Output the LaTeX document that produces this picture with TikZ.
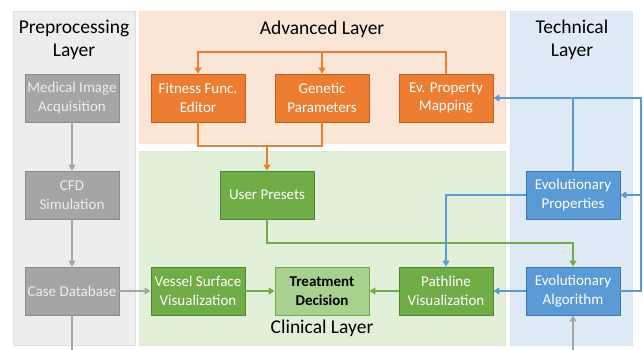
\documentclass[tikz,border=0pt]{standalone}
\usepackage{fontspec}
\setmainfont{Carlito}
\usetikzlibrary{arrows.meta}

\definecolor{grayfill}{HTML}{A5A5A5}
\definecolor{graydraw}{HTML}{8A8A8A}
\definecolor{graytext}{HTML}{EDEDED}
\definecolor{orangefill}{HTML}{ED7D31}
\definecolor{orangedraw}{HTML}{C05F1F}
\definecolor{greenfill}{HTML}{70AD47}
\definecolor{greendraw}{HTML}{4E8530}
\definecolor{lightgreen}{HTML}{A9D18E}
\definecolor{bluefill}{HTML}{5B9BD5}
\definecolor{bluedraw}{HTML}{3E78B0}
\definecolor{prepanel}{HTML}{EDEDED}
\definecolor{advpanel}{HTML}{FBE5D6}
\definecolor{clinpanel}{HTML}{E2F0D9}
\definecolor{techpanel}{HTML}{DEEBF7}

\tikzstyle{box}=[minimum width=94pt, minimum height=48pt, inner sep=2pt, align=center, line width=0.9pt, font=\fontsize{15}{18.5}\selectfont]
\tikzstyle{prebox}=[box, fill=grayfill, draw=graydraw, text=graytext]
\tikzstyle{advbox}=[box, fill=orangefill, draw=orangedraw, text=white]
\tikzstyle{clinbox}=[box, fill=greenfill, draw=greendraw, text=white]
\tikzstyle{techbox}=[box, fill=bluefill, draw=bluedraw, text=white]
\tikzstyle{title}=[align=center, font=\fontsize{19.5}{23.5}\selectfont]
\tikzstyle{tip}=[-{Triangle[width=7pt,length=6pt]}]
\tikzstyle{gline}=[line width=2pt, grayfill]
\tikzstyle{oline}=[line width=2pt, orangefill]
\tikzstyle{cline}=[line width=2pt, greenfill]
\tikzstyle{bline}=[line width=2pt, bluefill]

\begin{document}
\begin{tikzpicture}[x=1pt, y=-1pt]
\useasboundingbox (0,0) rectangle (643,350);
% Layers
    \filldraw[fill=prepanel, draw=black!12] (13,11) rectangle (135,345);
    \filldraw[fill=advpanel, draw=orangefill!25] (139,11) rectangle (505,143);
    \filldraw[fill=clinpanel, draw=greenfill!25] (139,151) rectangle (505,345);
    \filldraw[fill=techpanel, draw=bluefill!25] (510,11) rectangle (632,345);
    \node[title] (pretitle) at (74,40) {Preprocessing\\Layer};
    \node[title] (advtitle) at (322,29) {Advanced Layer};
    \node[title] (techtitle) at (572,40) {Technical\\Layer};
    \node[title] (clintitle) at (322,328) {Clinical Layer};
% Preprocessing
    \node[prebox] (acq) at (72,98) {Medical Image\\Acquisition};
    \node[prebox] (cfd) at (72,195) {CFD\\Simulation};
    \node[prebox] (casedb) at (72,291) {Case Database};
% Advanced
    \node[advbox] (fitness) at (198,98) {Fitness Func.\\Editor};
    \node[advbox] (genetic) at (322,98) {Genetic\\Parameters};
    \node[advbox] (evmap) at (446,98) {Ev. Property\\Mapping};
% Clinical
    \node[clinbox] (presets) at (267,195) {User Presets};
    \node[clinbox] (vessel) at (198,291) {Vessel Surface\\Visualization};
    \node[box, fill=lightgreen, draw=greenfill, font=\fontsize{15}{18.5}\selectfont\bfseries] (decision) at (322,291) {Treatment\\Decision};
    \node[clinbox] (pathline) at (446,291) {Pathline\\Visualization};
% Technical
    \node[techbox] (evprop) at (573,195) {Evolutionary\\Properties};
    \node[techbox] (evalg) at (573,291) {Evolutionary\\Algorithm};
% Turning points
    \coordinate (dbout) at (72,352);
    \coordinate (algin) at (573,352);
    \coordinate (otop) at (322,52);
    \coordinate (obot) at (267,146);
    \coordinate (cturn) at (573,243);
    \coordinate (bcorner) at (641,98);
    \coordinate (bmid) at (641,195);
    \coordinate (bjoin) at (573,98);
% Gray connectors
    \draw[gline, tip] (acq) -- (cfd);
    \draw[gline, tip] (cfd) -- (casedb);
    \draw[gline, tip] (casedb) -- (vessel);
    \draw[gline] (casedb) -- (dbout);
    \draw[gline, tip] (algin) -- (evalg);
% Orange connectors
    \draw[oline] (evmap.north) |- (otop);
    \draw[oline, tip] (otop) -| (fitness.north);
    \draw[oline, tip] (otop) -- (genetic.north);
    \draw[oline] (fitness.south) |- (obot);
    \draw[oline] (genetic.south) |- (obot);
    \draw[oline, tip] (obot) -- (presets.north);
% Green connectors
    \draw[cline, tip] (presets.south) |- (cturn) -- (evalg.north);
    \draw[cline, tip] (vessel) -- (decision);
    \draw[cline, tip] (pathline) -- (decision);
% Blue connectors
    \draw[bline, tip] (evalg.east) -| (bcorner) -- (evmap.east);
    \draw[bline, tip] (bmid) -- (evprop.east);
    \draw[bline] (evprop.north) -- (bjoin);
    \draw[bline, tip] (evprop.west) -| (pathline.north);
    \draw[bline, tip] (evalg) -- (pathline);
\end{tikzpicture}
\end{document}
